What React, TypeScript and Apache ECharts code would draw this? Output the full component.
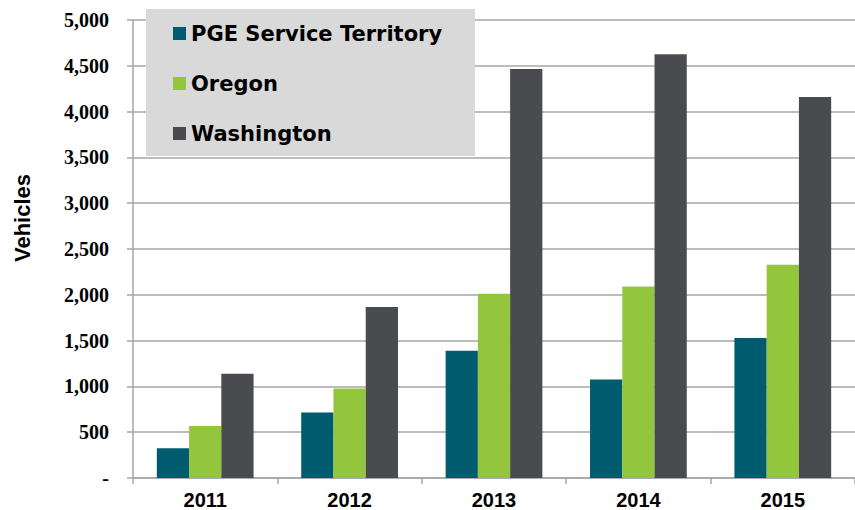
import React, { useEffect, useRef } from "react";
import * as echarts from "echarts";

const categories = ["2011", "2012", "2013", "2014", "2015"];
const pgeValues = [326, 714, 1388, 1076, 1529];
const oregonValues = [569, 978, 2011, 2090, 2329];
const washingtonValues = [1138, 1866, 4464, 4627, 4160];
const seriesNames = ["PGE Service Territory", "Oregon", "Washington"];
const yTickMax = 5000;
const yTickStep = 500;
const yAxisTitle = "Vehicles";

export default function App() {
  const ref = useRef<HTMLDivElement>(null);
  useEffect(() => {
    if (!ref.current) return;
    const chart = echarts.init(ref.current, null, { renderer: "svg" });
    const gray = "#a6a6a6";
    chart.setOption({
      animation: false,
      backgroundColor: "#ffffff",
      grid: { left: 133, top: 20, width: 730, height: 460, containLabel: false },
      legend: {
        orient: "vertical",
        left: 173,
        top: 23,
        padding: 0,
        itemGap: 29,
        itemWidth: 13,
        itemHeight: 13,
        icon: "rect",
        z: 10,
        data: seriesNames,
        textStyle: {
          fontFamily: "DejaVu Sans",
          fontWeight: "bold",
          fontSize: 21,
          color: "#000000",
          lineHeight: 20,
        },
      },
      graphic: [
        {
          type: "rect",
          z: 5,
          shape: { x: 146, y: 9, width: 329, height: 147 },
          style: { fill: "#d9d9d9" },
        },
        {
          type: "text",
          z: 5,
          x: 22,
          y: 218,
          rotation: Math.PI / 2,
          style: {
            text: yAxisTitle,
            fontFamily: "Liberation Sans",
            fontWeight: "bold",
            fontSize: 22,
            fill: "#000000",
            textAlign: "center",
            textVerticalAlign: "middle",
          },
        },
      ],
      xAxis: {
        type: "category",
        data: categories,
        axisLine: { show: true, lineStyle: { color: gray, width: 1.5 } },
        axisTick: { show: true, length: 6, lineStyle: { color: gray, width: 1.5 } },
        axisLabel: {
          margin: 12,
          fontFamily: "Liberation Sans",
          fontWeight: "bold",
          fontSize: 20,
          color: "#000000",
        },
        splitLine: { show: false },
      },
      yAxis: {
        type: "value",
        min: 0,
        max: yTickMax,
        interval: yTickStep,
        axisLine: { show: true, lineStyle: { color: gray, width: 1.5 } },
        axisTick: { show: true, length: 6, lineStyle: { color: gray, width: 1.5 } },
        axisLabel: {
          margin: 24,
          fontFamily: "Liberation Serif",
          fontWeight: "bold",
          fontSize: 20,
          color: "#000000",
          formatter: (v: number) => (v === 0 ? "-" : v.toLocaleString("en-US")),
        },
        splitLine: { show: true, lineStyle: { color: gray, width: 1.5 } },
      },
      series: [
        {
          name: seriesNames[0],
          type: "bar",
          data: pgeValues,
          barGap: "0%",
          barCategoryGap: "33%",
          itemStyle: { color: "#005b6e" },
        },
        {
          name: seriesNames[1],
          type: "bar",
          data: oregonValues,
          barGap: "0%",
          barCategoryGap: "33%",
          itemStyle: { color: "#93c63d" },
        },
        {
          name: seriesNames[2],
          type: "bar",
          data: washingtonValues,
          barGap: "0%",
          barCategoryGap: "33%",
          itemStyle: { color: "#4a4b4f" },
        },
      ],
    });
    return () => chart.dispose();
  }, []);
  return (
    <div
      ref={ref}
      style={{ position: "absolute", left: 0, top: 0, width: 855, height: 510, overflow: "hidden" }}
    />
  );
}
